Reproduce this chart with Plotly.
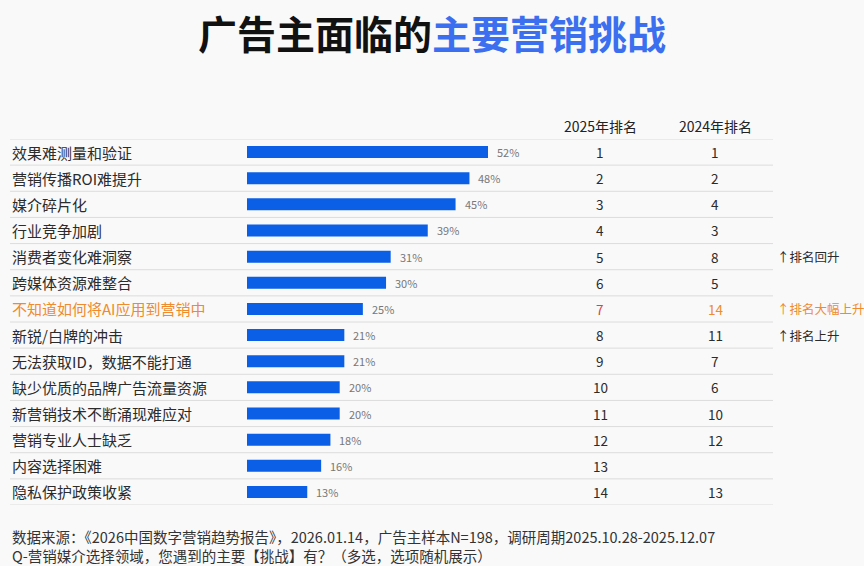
import plotly.graph_objects as go

W, H = 864, 566

categories = ["效果难测量和验证", "营销传播ROI难提升", "媒介碎片化", "行业竞争加剧",
              "消费者变化难洞察", "跨媒体资源难整合", "不知道如何将AI应用到营销中",
              "新锐/白牌的冲击", "无法获取ID，数据不能打通", "缺少优质的品牌广告流量资源",
              "新营销技术不断涌现难应对", "营销专业人士缺乏", "内容选择困难", "隐私保护政策收紧"]
values = [52, 48, 45, 39, 31, 30, 25, 21, 21, 20, 20, 18, 16, 13]
rank_2025 = [1, 2, 3, 4, 5, 6, 7, 8, 9, 10, 11, 12, 13, 14]
rank_2024 = [1, 2, 4, 3, 8, 5, 14, 11, 7, 6, 10, 12, None, 13]
notes = ["", "", "", "", "↑排名回升", "", "↑排名大幅上升", "↑排名上升", "", "", "", "", "", ""]
highlight = 6

FONT = "Noto Sans CJK SC"
BLUE = "#0a5fe6"
ORANGE = "#ef8b2c"
RED = "#d8453b"
TXT = "#2b2b2b"

def px_x(p):
    return p / W

def px_y(p):
    return 1 - p / H

top_px, bot_px = 139, 505
bar_x0 = 247
px_per_pct = (488 - 247) / 52.0

fig = go.Figure()
fig.add_trace(go.Bar(
    orientation="h",
    x=values,
    y=categories,
    marker=dict(color=BLUE, line=dict(width=0)),
    width=0.46,
    hoverinfo="skip",
))

annotations = []
# title
annotations.append(dict(
    text="<b>广告主面临的<span style='color:#3b6ff0'>主要营销挑战</span></b>",
    x=0.5, y=px_y(32), xref="paper", yref="paper", xanchor="center", yanchor="middle",
    showarrow=False, font=dict(family=FONT, size=39, color="#111111")))
# headers
for xpix, t in [(600, "2025年排名"), (715, "2024年排名")]:
    annotations.append(dict(text=t, x=px_x(xpix), y=px_y(126), xref="paper", yref="paper",
                            xanchor="center", yanchor="middle", showarrow=False,
                            font=dict(family=FONT, size=14, color="#222222")))

for i, cat in enumerate(categories):
    hl = (i == highlight)
    annotations.append(dict(text=f"{values[i]}%", x=values[i], y=cat, xref="x", yref="y",
                            xanchor="left", yanchor="middle", xshift=7, showarrow=False,
                            font=dict(family=FONT, size=11, color="#777777")))
    annotations.append(dict(text=cat, x=px_x(10), y=cat, xref="paper", yref="y",
                            xanchor="left", yanchor="middle", showarrow=False,
                            font=dict(family=FONT, size=15, color=ORANGE if hl else TXT)))
    annotations.append(dict(text=str(rank_2025[i]), x=px_x(600), y=cat, xref="paper", yref="y",
                            xanchor="center", yanchor="middle", showarrow=False,
                            font=dict(family=FONT, size=13.5, color=RED if hl else TXT)))
    if rank_2024[i] is not None:
        annotations.append(dict(text=str(rank_2024[i]), x=px_x(715), y=cat, xref="paper", yref="y",
                                xanchor="center", yanchor="middle", showarrow=False,
                                font=dict(family=FONT, size=13.5, color=ORANGE if hl else TXT)))
    if notes[i]:
        annotations.append(dict(text=notes[i], x=px_x(775), y=cat, xref="paper", yref="y",
                                xanchor="left", yanchor="middle", showarrow=False,
                                font=dict(family=FONT, size=12.5, color=ORANGE if hl else TXT)))

# footer
annotations.append(dict(
    text="数据来源：《2026中国数字营销趋势报告》，2026.01.14，广告主样本N=198，调研周期2025.10.28-2025.12.07",
    x=px_x(10), y=px_y(536), xref="paper", yref="paper", xanchor="left", yanchor="middle",
    showarrow=False, font=dict(family=FONT, size=14.5, color="#333333")))
annotations.append(dict(
    text="Q-营销媒介选择领域，您遇到的主要【挑战】有？（多选，选项随机展示）",
    x=px_x(10), y=px_y(555), xref="paper", yref="paper", xanchor="left", yanchor="middle",
    showarrow=False, font=dict(family=FONT, size=14.5, color="#333333")))

# row separators
shapes = []
n = len(categories)
for k in range(n + 1):
    yb = k - 0.5
    shapes.append(dict(type="line", xref="paper", yref="y", x0=px_x(10), x1=px_x(773),
                       y0=yb, y1=yb, line=dict(color="#dcdcdc", width=1), layer="below"))

fig.update_layout(
    width=W, height=H,
    margin=dict(l=0, r=0, t=0, b=0),
    paper_bgcolor="#f9f9fa",
    plot_bgcolor="rgba(0,0,0,0)",
    showlegend=False,
    xaxis=dict(domain=[bar_x0 / W, 1], range=[0, (W - bar_x0) / px_per_pct], visible=False,
               fixedrange=True),
    yaxis=dict(domain=[1 - bot_px / H, 1 - top_px / H], type="category",
               range=[n - 0.5, -0.5], visible=False, fixedrange=True),
    annotations=annotations,
    shapes=shapes,
)

fig.write_html("out.html", config={"displayModeBar": False},
               post_script="document.body.style.margin='0';document.body.style.background='#f9f9fa';")
